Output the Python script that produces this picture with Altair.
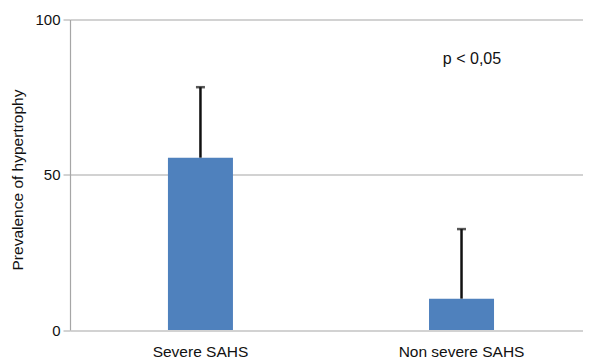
import altair as alt
import pandas as pd

groups = ["Severe SAHS", "Non severe SAHS"]
values = [55.5, 10.1]
upper = [78.2, 32.5]

df = pd.DataFrame({"group": groups, "value": values, "upper": upper})

FONT = "Liberation Sans"

x = alt.X("group:N", sort=groups, title=None,
          scale=alt.Scale(paddingInner=0.751, paddingOuter=0.358, align=0.524),
          axis=alt.Axis(labelAngle=0, domain=False, ticks=False, labelPadding=14,
                        labelFontSize=15.5, labelFont=FONT, labelColor="#111"))
y = alt.Y("value:Q", title="Prevalence of hypertrophy",
          scale=alt.Scale(domain=[0, 100], nice=False),
          axis=alt.Axis(values=[0, 50, 100], grid=True, gridColor="#a6a6a6", gridWidth=1.2,
                        domainColor="#a6a6a6", domainWidth=1.2, tickColor="#a6a6a6", tickSize=7,
                        labelPadding=3, labelFontSize=15, labelFont=FONT, labelColor="#111",
                        titleFontSize=15.5, titleFont=FONT, titleFontWeight="normal",
                        titleColor="#111", titlePadding=9, titleY=160))

base = alt.Chart(df)
bars = base.mark_bar(color="#4f81bd").encode(x=x, y=y)
err = base.mark_rule(color="#111", strokeWidth=2.5).encode(x=alt.X("group:N", sort=groups), y="value:Q", y2="upper:Q")
cap = base.mark_tick(color="#111", thickness=2.5, size=9, orient="horizontal").encode(
    x=alt.X("group:N", sort=groups), y="upper:Q")

ptext = alt.Chart(pd.DataFrame({"t": ["p < 0,05"]})).mark_text(
    font=FONT, fontSize=16, color="#111", align="center", baseline="middle"
).encode(text="t:N", x=alt.value(402), y=alt.value(39))

chart = alt.layer(bars, err, cap, ptext).properties(
    width=513, height=310.5,
    autosize=alt.AutoSizeParams(type="none"),
    padding={"left": 62, "top": 11.5, "right": 0, "bottom": 30},
).configure_view(stroke=None).configure_axis(labelFont=FONT)

chart.save("out.html", embed_options={"renderer": "svg", "actions": False})
